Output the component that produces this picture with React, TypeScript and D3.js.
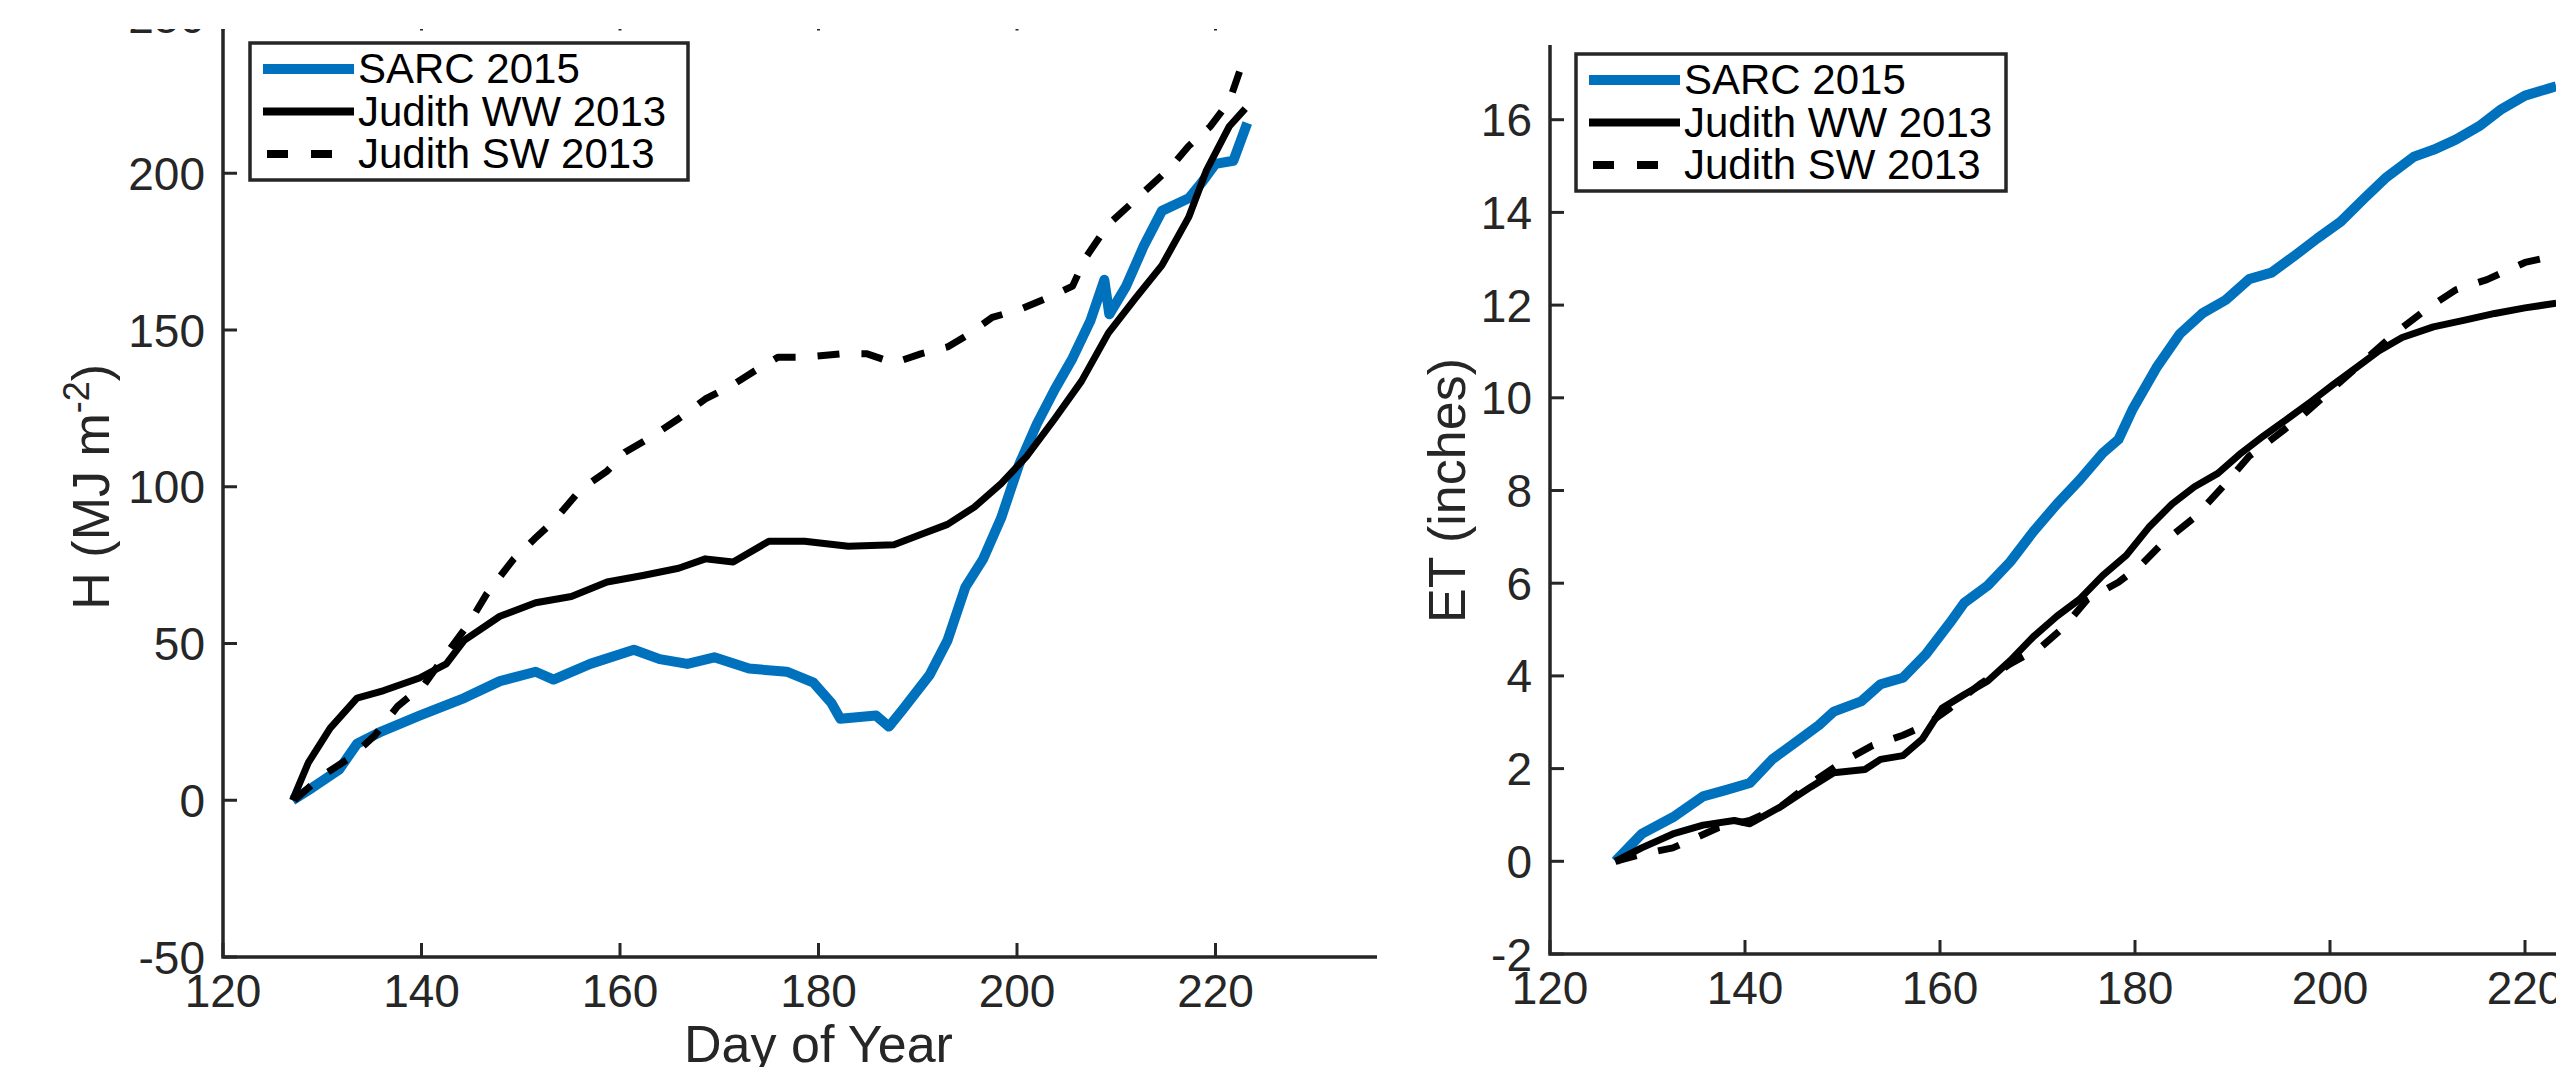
import React, { useEffect, useRef } from 'react';
import * as d3 from 'd3';

// cumulative sensible heat H (MJ m^-2), [day of year, value]
const hSarc2015 = [[127,0],[129,4],[131.7,9.8],[133.5,18],[136,22],[139.8,27],[144.3,32.6],[147.9,38],[151.5,41],[153.3,38.5],[157,43.5],[161.4,48],[164,45],[166.8,43.5],[169.5,45.6],[173,42],[176.8,41],[179.5,37.5],[181.3,31],[182.2,26],[185.8,27],[187.1,23.5],[188.5,29],[191.2,40],[193,51],[194.8,68],[196.6,77],[198.4,90],[200.2,107],[202,120],[203.8,131],[205.6,141],[207.4,153],[208.8,166],[209.3,155],[211,164],[212.8,177],[214.6,188],[217.3,192],[218.6,197],[220,203],[221.8,204],[223.2,216]];
const hJudithWW = [[127,0],[128.6,12],[130.8,23],[133.5,32.6],[136.2,35],[139.8,39],[142.5,43.5],[144.3,51],[147.9,58.7],[151.5,63],[155.1,65],[158.7,69.6],[162.3,71.7],[165.9,74],[168.6,77],[171.4,76],[175,82.6],[178.6,82.6],[183,81],[187.6,81.5],[190.3,84.8],[193,88],[195.7,93.5],[198.4,101],[201,109.8],[203.8,121.7],[206.5,133.7],[209.2,149],[211.9,160],[214.6,170.6],[217.3,186],[219.1,201],[221.4,215],[223,220.6]];
const hJudithSW = [[127.2,0],[129.9,7.6],[133,14],[135.3,20.7],[137.6,30],[140.3,37],[142.5,46.7],[144.8,56.5],[146.6,66],[149.3,77],[151.5,83.7],[153.3,89],[156,99],[158.7,105],[160.5,111],[163.2,116],[165.9,121.7],[168.6,128],[171.4,132.6],[173.6,137],[175.9,141.3],[178.6,141.3],[182.2,142.4],[184.9,142.4],[187.6,139.5],[190.3,142.4],[193,144.6],[194.8,148],[197.5,154],[200.2,156.5],[202.9,160],[205.6,164],[206.9,173],[209.2,183.7],[211.4,190],[213.7,196.7],[215.5,202],[217.3,208.7],[219.5,215],[221.4,223],[222.7,235]];

// cumulative ET (inches)
const etSarc2015 = [[126.7,0],[129.4,0.59],[132.6,0.95],[135.7,1.4],[138.1,1.54],[140.5,1.69],[142.8,2.2],[145.2,2.57],[147.6,2.94],[149.1,3.23],[151.9,3.45],[153.9,3.82],[156.2,3.96],[158.6,4.48],[161,5.14],[162.5,5.58],[164.9,5.95],[167.2,6.46],[169.6,7.12],[172,7.71],[174.3,8.22],[176.7,8.81],[178.3,9.1],[179.8,9.77],[182.2,10.65],[184.6,11.38],[186.9,11.82],[189.3,12.11],[191.7,12.56],[194,12.7],[196.4,13.07],[198.7,13.44],[201.1,13.8],[203.5,14.3],[205.8,14.76],[208.6,15.2],[210.6,15.35],[212.9,15.57],[215.3,15.86],[217.6,16.23],[220,16.52],[222.4,16.67],[223.2,16.72]];
const etJudithWW = [[126.7,0],[129.4,0.29],[132.6,0.59],[135.7,0.78],[138.9,0.88],[140.5,0.81],[143.6,1.17],[146.8,1.61],[149.1,1.91],[152.3,1.98],[153.9,2.2],[156.2,2.28],[158.2,2.64],[160.2,3.3],[162.5,3.6],[164.9,3.89],[167.2,4.33],[169.6,4.85],[172,5.29],[174.3,5.65],[176.7,6.17],[179.1,6.6],[181.4,7.2],[183.8,7.71],[186.1,8.08],[188.5,8.37],[190.9,8.81],[193.2,9.18],[195.6,9.54],[198,9.91],[200.3,10.28],[202.7,10.65],[205,11.01],[207.4,11.3],[210.6,11.53],[213.7,11.67],[216.9,11.82],[220,11.94],[223.2,12.04]];
const etJudithSW = [[126.7,0],[129.4,0.15],[132.6,0.29],[135,0.51],[137.3,0.73],[140.5,0.88],[143.6,1.17],[146.8,1.69],[149.9,2.13],[153.1,2.5],[156.2,2.72],[158.6,2.94],[161,3.3],[164.1,3.82],[167.2,4.26],[170.4,4.63],[172.8,5.07],[175.1,5.65],[178.3,6.02],[180.6,6.39],[183,6.9],[186.1,7.42],[189.3,8.15],[191.7,8.74],[194,9.1],[197.2,9.62],[200.3,10.2],[203.5,10.8],[206.6,11.38],[209.8,11.9],[212.9,12.33],[216.1,12.55],[220,12.92],[223.2,13.07]];

const seriesNames = ['SARC 2015', 'Judith WW 2013', 'Judith SW 2013'];
const dayTicks = [120, 140, 160, 180, 200, 220, 240];
const hTicks = [-50, 0, 50, 100, 150, 200, 250];
const etTicks = [-2, 0, 2, 4, 6, 8, 10, 12, 14, 16, 18];

const BLUE = '#0072BD';
const AXIS = '#262626';
const FONT = 'Liberation Sans, Arial, Helvetica, sans-serif';

const styles = [
    { color: BLUE, width: 10, dash: null },
    { color: '#000', width: 7, dash: null },
    { color: '#000', width: 7, dash: '22 22' },
];

const App = () => {
    const svgRef = useRef(null);

    useEffect(() => {
        document.body.style.margin = '0';
        const svg = d3.select(svgRef.current);
        svg.selectAll('*').remove();

        const drawPanel = (opts) => {
            const { id, xRange, yDomain, yRange, yTicks, clip, series, legend, yLabel, xLabel } = opts;
            const x = d3.scaleLinear().domain([120, 240]).range(xRange);
            const y = d3.scaleLinear().domain(yDomain).range(yRange);

            svg.append('clipPath').attr('id', id)
                .append('rect')
                .attr('x', clip[0]).attr('y', clip[1])
                .attr('width', clip[2] - clip[0]).attr('height', clip[3] - clip[1]);

            const g = svg.append('g').attr('clip-path', `url(#${id})`);
            const [x0, x1] = xRange;
            const [yB, yT] = yRange;

            // lines
            const line = d3.line().x(d => x(d[0])).y(d => y(d[1])).curve(d3.curveLinear);
            series.forEach((s, i) => {
                g.append('path')
                    .datum(s)
                    .attr('d', line)
                    .attr('fill', 'none')
                    .attr('stroke', styles[i].color)
                    .attr('stroke-width', styles[i].width)
                    .attr('stroke-linejoin', 'round')
                    .attr('stroke-dasharray', styles[i].dash);
            });

            // box
            g.append('rect')
                .attr('x', x0).attr('y', yT)
                .attr('width', x1 - x0).attr('height', yB - yT)
                .attr('fill', 'none').attr('stroke', AXIS).attr('stroke-width', 3.5);

            // ticks (inward)
            dayTicks.forEach(t => {
                g.append('line').attr('x1', x(t)).attr('x2', x(t)).attr('y1', yB).attr('y2', yB - 14)
                    .attr('stroke', AXIS).attr('stroke-width', 3);
                g.append('line').attr('x1', x(t)).attr('x2', x(t)).attr('y1', yT).attr('y2', yT + 14)
                    .attr('stroke', AXIS).attr('stroke-width', 3);
                g.append('text').attr('x', x(t)).attr('y', yB + 50)
                    .attr('text-anchor', 'middle').attr('font-family', FONT).attr('font-size', 46)
                    .attr('fill', AXIS).text(t);
            });
            yTicks.forEach(t => {
                g.append('line').attr('x1', x0).attr('x2', x0 + 14).attr('y1', y(t)).attr('y2', y(t))
                    .attr('stroke', AXIS).attr('stroke-width', 3);
                g.append('line').attr('x1', x1).attr('x2', x1 - 14).attr('y1', y(t)).attr('y2', y(t))
                    .attr('stroke', AXIS).attr('stroke-width', 3);
                g.append('text').attr('x', x0 - 18).attr('y', y(t) + 16.5)
                    .attr('text-anchor', 'end').attr('font-family', FONT).attr('font-size', 46)
                    .attr('fill', AXIS).text(t);
            });

            // axis labels
            const yl = g.append('text')
                .attr('transform', `translate(${yLabel.x},${(yB + yT) / 2}) rotate(-90)`)
                .attr('text-anchor', 'middle').attr('font-family', FONT).attr('font-size', 52)
                .attr('fill', AXIS);
            yLabel.parts.forEach(p => {
                const ts = yl.append('tspan').text(p.text);
                if (p.sup) ts.attr('font-size', 36).attr('dy', -20);
                if (p.after) ts.attr('dy', 20);
            });
            if (xLabel) {
                g.append('text').attr('x', (x0 + x1) / 2).attr('y', yB + 105)
                    .attr('text-anchor', 'middle').attr('font-family', FONT).attr('font-size', 52)
                    .attr('fill', AXIS).text(xLabel);
            }

            // legend
            const lg = g.append('g');
            lg.append('rect')
                .attr('x', legend.x).attr('y', legend.y)
                .attr('width', legend.w).attr('height', 137)
                .attr('fill', '#fff').attr('stroke', AXIS).attr('stroke-width', 3.5);
            seriesNames.forEach((name, i) => {
                const ly = legend.y + 26 + i * 42.5;
                lg.append('line')
                    .attr('x1', legend.x + 13).attr('x2', legend.x + 104)
                    .attr('y1', ly).attr('y2', ly)
                    .attr('stroke', styles[i].color)
                    .attr('stroke-width', i === 0 ? 10 : 8)
                    .attr('stroke-dasharray', i === 2 ? '21 23' : null)
                    .attr('stroke-dashoffset', i === 2 ? -4 : 0);
                lg.append('text')
                    .attr('x', legend.x + 108).attr('y', ly + 14)
                    .attr('font-family', FONT).attr('font-size', 42)
                    .attr('fill', '#000').text(name);
            });
        };

        drawPanel({
            id: 'clipH',
            xRange: [223, 1414],
            yDomain: [-50, 250],
            yRange: [957, 16.5],
            yTicks: hTicks,
            clip: [0, 29, 1377, 1067],
            series: [hSarc2015, hJudithWW, hJudithSW],
            legend: { x: 250, y: 43, w: 438 },
            yLabel: { x: 109, parts: [{ text: 'H (MJ m' }, { text: '-2', sup: true }, { text: ')', after: true }] },
            xLabel: 'Day of Year',
        });

        drawPanel({
            id: 'clipET',
            xRange: [1550, 2720],
            yDomain: [-2, 18],
            yRange: [954, 27],
            yTicks: etTicks,
            clip: [1378, 45, 2556, 1067],
            series: [etSarc2015, etJudithWW, etJudithSW],
            legend: { x: 1576, y: 54, w: 430 },
            yLabel: { x: 1465, parts: [{ text: 'ET (inches)' }] },
            xLabel: null,
        });
    }, []);

    return (
        <svg ref={svgRef} width={2556} height={1067} style={{ display: 'block', background: '#fff' }} />
    );
};

export default App;
